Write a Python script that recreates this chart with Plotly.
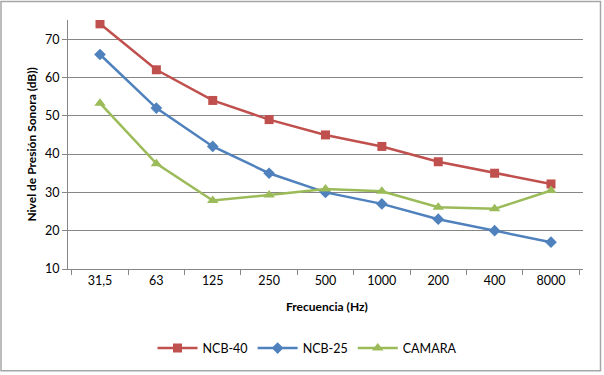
import plotly.graph_objects as go

categories = ["31,5", "63", "125", "250", "500", "1000", "200", "400", "8000"]
ncb40 = [74, 62, 54, 49, 45, 42, 38, 35, 32.2]
ncb25 = [66, 52, 42, 35, 30, 27, 23, 20, 17]
camara = [53.3, 37.5, 27.9, 29.3, 30.9, 30.3, 26.1, 25.7, 30.5]

FONT = "Lato"
fig = go.Figure()
fig.add_trace(go.Scatter(x=categories, y=ncb40, name="NCB-40", mode="lines+markers",
                         line=dict(color="#C0504D", width=2.5),
                         marker=dict(symbol="square", size=9, color="#C0504D")))
fig.add_trace(go.Scatter(x=categories, y=ncb25, name="NCB-25", mode="lines+markers",
                         line=dict(color="#4F81BD", width=2.5),
                         marker=dict(symbol="diamond", size=9, color="#4F81BD")))
fig.add_trace(go.Scatter(x=categories, y=camara, name="CAMARA", mode="lines+markers",
                         line=dict(color="#9BBB59", width=2.5),
                         marker=dict(symbol="triangle-up", size=10, color="#9BBB59")))

L, R, T, B = 68, 21, 19.5, 105.7
W, H = 604, 375
pw, ph = W - L - R, H - T - B

def px(x):
    return (x - L) / pw

def py(y):
    return (H - B - y) / ph

fig.update_layout(
    width=W, height=H,
    margin=dict(l=L, r=R, t=T, b=B, autoexpand=False),
    paper_bgcolor="white", plot_bgcolor="white",
    font=dict(family=FONT, size=12, color="black"),
    showlegend=True,
    legend=dict(orientation="h", x=px(307), xanchor="center", y=py(349), yanchor="middle",
                font=dict(family=FONT, size=12.5), itemwidth=40, bgcolor="rgba(0,0,0,0)"),
    xaxis=dict(type="category", tickson="boundaries", ticks="outside", ticklen=5,
               tickcolor="#868686", showline=True, linecolor="#868686", linewidth=1,
               showgrid=False, tickfont=dict(family=FONT, size=12.5), fixedrange=True),
    yaxis=dict(range=[10, 75], tickvals=[10, 20, 30, 40, 50, 60, 70], ticks="outside",
               ticklen=5, tickcolor="#868686", showline=True, linecolor="#868686",
               linewidth=1, showgrid=True, gridcolor="#868686", gridwidth=1,
               zeroline=False, tickfont=dict(family=FONT, size=12.5), fixedrange=True),
    shapes=[dict(type="rect", xref="paper", yref="paper",
                 x0=px(1), x1=px(600.5), y0=py(371.5), y1=py(1),
                 line=dict(color="#A6A6A6", width=1.5), fillcolor="rgba(0,0,0,0)")],
    annotations=[
        dict(text="<b>Nivel de Presión Sonora (dB))</b>", xref="paper", yref="paper",
             x=px(32), y=py(144.5), textangle=-90, showarrow=False,
             font=dict(family=FONT, size=12), xanchor="center", yanchor="middle"),
        dict(text="<b>Frecuencia (Hz)</b>", xref="paper", yref="paper",
             x=px(327), y=py(307), showarrow=False,
             font=dict(family=FONT, size=12), xanchor="center", yanchor="middle"),
    ],
)

fig.write_html("out.html", config={"displayModeBar": False},
               post_script="document.body.style.margin='0';document.body.style.overflow='hidden';")
